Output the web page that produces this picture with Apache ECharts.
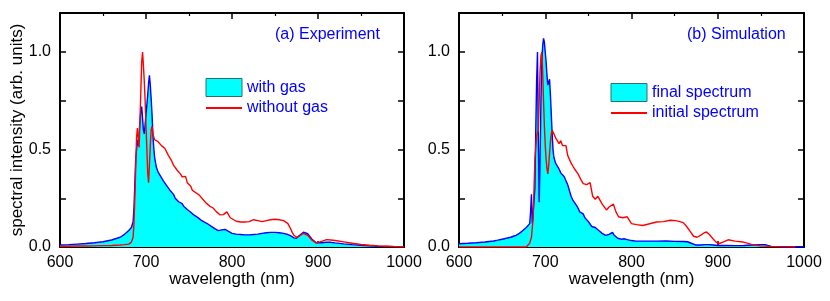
<!DOCTYPE html>
<html>
<head>
<meta charset="utf-8">
<script src="https://cdn.jsdelivr.net/npm/echarts@6/dist/echarts.min.js"></script>
<style>
html,body{margin:0;padding:0;background:#fff;}
#chart{width:830px;height:301px;}
</style>
</head>
<body>
<div id="chart"></div>
<script>
// ---- Panel (a) Experiment ----
var expWl = [600,610,620,630,640,650,660,670,675,680,683,685,686,687,688,689,690,691,692,693,694,695,696,697,698,699,700,701,702,703,704,705,706,707,708,709,710,712,714,716,718,720,722,724,726,728,730,732,734,736,738,740,742,744,746,748,750,752,754,756,758,760,762,764,766,768,770,772,774,776,778,780,782,784,786,788,790,792,794,796,798,800,805,810,815,820,825,830,835,840,845,850,855,860,865,868,870,872,875,878,880,883,885,888,890,893,895,898,900,905,910,915,920,930,940,950,960,970,980,990,1000];
var expWithGas = [0.010,0.012,0.015,0.018,0.022,0.027,0.036,0.050,0.065,0.085,0.100,0.130,0.200,0.320,0.450,0.500,0.550,0.520,0.580,0.650,0.700,0.720,0.660,0.600,0.580,0.630,0.680,0.730,0.780,0.840,0.880,0.830,0.760,0.680,0.580,0.510,0.460,0.410,0.385,0.370,0.360,0.340,0.335,0.315,0.305,0.290,0.280,0.270,0.250,0.248,0.232,0.225,0.222,0.208,0.206,0.192,0.190,0.178,0.177,0.163,0.160,0.152,0.146,0.138,0.136,0.128,0.125,0.118,0.116,0.106,0.102,0.094,0.090,0.084,0.083,0.088,0.095,0.090,0.086,0.080,0.076,0.070,0.066,0.064,0.062,0.062,0.064,0.066,0.070,0.073,0.075,0.075,0.073,0.070,0.064,0.058,0.052,0.047,0.045,0.058,0.068,0.076,0.075,0.068,0.058,0.040,0.030,0.022,0.020,0.022,0.025,0.024,0.021,0.016,0.012,0.009,0.006,0.004,0.003,0.002,0.001];
var expWithoutGas = [0.004,0.004,0.005,0.005,0.006,0.007,0.008,0.010,0.012,0.015,0.025,0.050,0.120,0.250,0.400,0.560,0.610,0.600,0.510,0.650,0.800,0.950,1.000,0.930,0.850,0.750,0.620,0.500,0.380,0.330,0.420,0.520,0.600,0.620,0.580,0.565,0.550,0.560,0.540,0.530,0.520,0.530,0.505,0.500,0.470,0.480,0.440,0.420,0.430,0.395,0.385,0.375,0.360,0.350,0.362,0.330,0.320,0.312,0.290,0.300,0.278,0.270,0.266,0.258,0.245,0.236,0.225,0.222,0.210,0.215,0.200,0.196,0.180,0.170,0.165,0.160,0.166,0.176,0.180,0.170,0.150,0.140,0.132,0.128,0.128,0.130,0.140,0.135,0.130,0.135,0.140,0.142,0.140,0.135,0.120,0.095,0.075,0.060,0.050,0.055,0.063,0.070,0.068,0.060,0.050,0.035,0.025,0.020,0.020,0.030,0.038,0.036,0.033,0.026,0.019,0.013,0.009,0.006,0.004,0.002,0.001];

// ---- Panel (b) Simulation ----
var simFinalWl = [600,610,620,630,640,645,650,655,660,663,666,668,670,672,674,676,678,680,682,683,684,685,686,687,688,689,690,691,692,693,694,695,696,697,698,699,700,701,702,703,704,705,706,707,708,709,710,712,714,716,718,720,722,724,726,728,730,732,734,736,738,740,742,744,746,748,750,752,754,756,758,760,762,764,766,768,770,772,774,776,778,780,782,784,786,788,790,792,795,800,805,810,820,830,840,850,860,865,870,875,880,885,890,895,900,910,920,930,940,950,955,958,962,970,980,1000];
var simFinal = [0.017,0.019,0.022,0.026,0.031,0.035,0.040,0.045,0.050,0.055,0.060,0.065,0.070,0.080,0.085,0.090,0.100,0.100,0.120,0.180,0.270,0.120,0.110,0.130,0.300,0.600,0.850,1.000,0.550,0.230,0.450,0.750,0.950,1.030,1.070,1.050,1.000,0.950,0.880,0.830,0.840,0.860,0.780,0.680,0.580,0.500,0.460,0.430,0.420,0.400,0.380,0.390,0.360,0.340,0.320,0.290,0.260,0.240,0.235,0.215,0.200,0.180,0.175,0.170,0.150,0.140,0.130,0.120,0.105,0.095,0.100,0.095,0.085,0.075,0.070,0.065,0.060,0.060,0.065,0.070,0.075,0.060,0.050,0.045,0.040,0.040,0.045,0.042,0.038,0.033,0.030,0.030,0.030,0.030,0.031,0.029,0.028,0.027,0.018,0.010,0.010,0.012,0.012,0.010,0.008,0.008,0.007,0.008,0.010,0.012,0.012,0.008,0.003,0.002,0.001,0.001];
var simInitialWl = [600,650,678,682,684,686,688,690,692,693,694,695,696,697,698,699,700,701,702,703,704,705,706,707,708,710,712,714,716,718,720,722,724,726,728,730,734,738,742,744,748,752,755,758,761,766,771,774,779,782,785,790,795,800,806,813,820,829,837,845,851,856,860,864,868,872,876,880,884,887,890,894,898,902,906,912,920,929,940,949,960,970,990];
var simInitial = [0.000,0.000,0.000,0.020,0.050,0.150,0.450,0.570,0.600,0.750,0.900,0.980,1.000,0.900,0.750,0.620,0.520,0.450,0.400,0.375,0.420,0.480,0.540,0.580,0.600,0.580,0.560,0.545,0.530,0.545,0.520,0.515,0.520,0.470,0.450,0.430,0.400,0.375,0.340,0.325,0.320,0.330,0.260,0.245,0.260,0.220,0.190,0.205,0.220,0.180,0.155,0.150,0.155,0.120,0.115,0.110,0.118,0.128,0.130,0.137,0.135,0.130,0.125,0.105,0.080,0.055,0.050,0.060,0.072,0.077,0.065,0.045,0.025,0.018,0.025,0.037,0.030,0.026,0.012,0.006,0.003,0.001,0.000];

var xTicks = {min:600, max:1000, interval:100};
var yTickLabels = ['0.0','0.5','1.0'];

function zip(a,b){var r=[];for(var i=0;i<a.length;i++)r.push([a[i],b[i]]);return r;}

var FONT = 'Liberation Sans, Arial, Helvetica, sans-serif';
var BLUE = '#0000ff', RED = '#ff0000', CYAN = '#00ffff';

function xAx(grid, bottom){
  return {
    type:'value', gridIndex:grid, position: bottom?'bottom':'top',
    min:xTicks.min, max:xTicks.max, interval:xTicks.interval,
    name: bottom ? 'wavelength (nm)' : '', nameLocation:'middle', nameGap:24, nameMoveOverlap:false,
    nameTextStyle:{fontFamily:FONT, fontSize:17, color:'#000'},
    axisLine:{show:true, onZero:false, lineStyle:{color:'#000', width:2}},
    axisTick:{show:true, inside:true, length:6, lineStyle:{color:'#000', width:1.5}},
    minorTick:{show:true, splitNumber:2, length:3, lineStyle:{color:'#000', width:1.2}},
    axisLabel:{show:bottom, margin:8, fontFamily:FONT, fontSize:16, color:'#000',
      formatter:function(v){return String(v);}},
    splitLine:{show:false}, minorSplitLine:{show:false}
  };
}
function yAx(grid, left, named){
  return {
    type:'value', gridIndex:grid, position: left?'left':'right',
    min:0, max:1.2, interval:0.25,
    name: named ? 'spectral intensity (arb. units)' : '', nameLocation:'middle', nameGap:34, nameMoveOverlap:false,
    nameTextStyle:{fontFamily:FONT, fontSize:17, color:'#000'},
    axisLine:{show:true, onZero:false, lineStyle:{color:'#000', width:2}},
    axisTick:{show:true, inside:true, length:6, lineStyle:{color:'#000', width:1.5}},
    axisLabel:{show:left, margin:9, fontFamily:FONT, fontSize:16, color:'#000',
      showMaxLabel:false,
      formatter:function(v){var s=v.toFixed(1); return (yTickLabels.indexOf(s)>=0 && Math.abs(v*2-Math.round(v*2))<1e-6)? s : '';}},
    splitLine:{show:false}
  };
}

var hiddenSym = {color:'rgba(0,0,0,0)', borderColor:'rgba(0,0,0,0)', borderWidth:0};

var chart = echarts.init(document.getElementById('chart'), null, {renderer:'canvas'});
chart.setOption({
  animation:false,
  backgroundColor:'#fff',
  grid:[
    {left:60, top:13, width:344, height:234},
    {left:459, top:13, width:345, height:234}
  ],
  xAxis:[xAx(0,true), xAx(0,false), xAx(1,true), xAx(1,false)],
  yAxis:[yAx(0,true,true), yAx(0,false,false), yAx(1,true,false), yAx(1,false,false)],
  title:[
    {text:'(a) Experiment', left:275, top:27, padding:0, textStyle:{color:BLUE, fontSize:16, fontWeight:'normal', fontFamily:FONT}},
    {text:'(b) Simulation', left:687, top:27, padding:0, textStyle:{color:BLUE, fontSize:16, fontWeight:'normal', fontFamily:FONT}}
  ],
  legend:[
    {left:205, top:78, padding:0, orient:'vertical', itemWidth:36, itemHeight:18, itemGap:3,
     textStyle:{color:BLUE, fontSize:16, fontFamily:FONT},
     data:[{name:'with gas', icon:'rect', itemStyle:{color:CYAN, borderColor:'#2e6e6e', borderWidth:1}},
           {name:'without gas', itemStyle:hiddenSym}]},
    {left:610, top:83, padding:0, orient:'vertical', itemWidth:36, itemHeight:18, itemGap:3,
     textStyle:{color:BLUE, fontSize:16, fontFamily:FONT},
     data:[{name:'final spectrum', icon:'rect', itemStyle:{color:CYAN, borderColor:'#2e6e6e', borderWidth:1}},
           {name:'initial spectrum', itemStyle:hiddenSym}]}
  ],
  series:[
    {name:'with gas', type:'line', xAxisIndex:0, yAxisIndex:0, data:zip(expWl,expWithGas),
     symbol:'none', showSymbol:false, itemStyle:{color:BLUE}, lineStyle:{color:BLUE, width:1.4},
     areaStyle:{color:CYAN, opacity:1}, z:2},
    {name:'without gas', type:'line', xAxisIndex:0, yAxisIndex:0, data:zip(expWl,expWithoutGas),
     symbol:'none', showSymbol:false, itemStyle:{color:RED}, lineStyle:{color:RED, width:1.4}, z:3},
    {name:'final spectrum', type:'line', xAxisIndex:2, yAxisIndex:2, data:zip(simFinalWl,simFinal),
     symbol:'none', showSymbol:false, itemStyle:{color:BLUE}, lineStyle:{color:BLUE, width:1.4},
     areaStyle:{color:CYAN, opacity:1}, z:2},
    {name:'initial spectrum', type:'line', xAxisIndex:2, yAxisIndex:2, data:zip(simInitialWl,simInitial),
     symbol:'none', showSymbol:false, itemStyle:{color:RED}, lineStyle:{color:RED, width:1.4}, z:3}
  ]
});
</script>
</body>
</html>
